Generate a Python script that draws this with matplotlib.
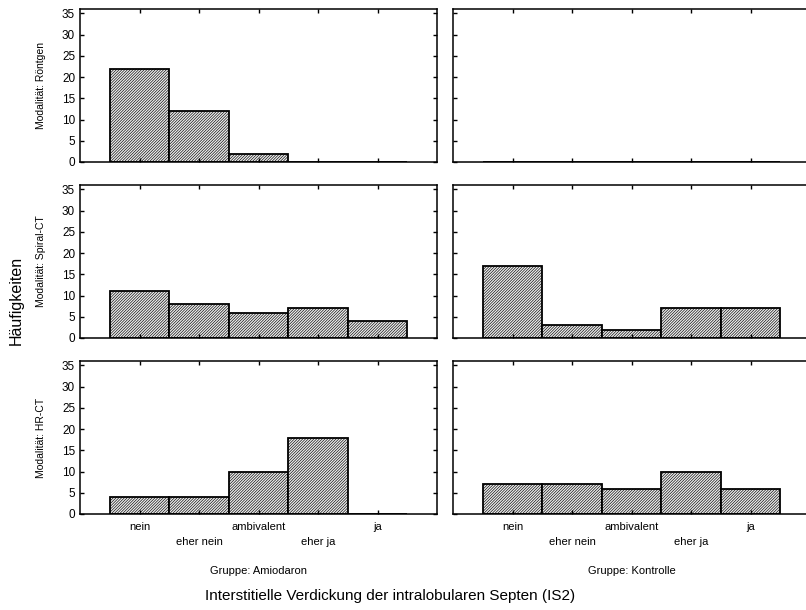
import numpy as np
import matplotlib.pyplot as plt

plt.rcParams['font.family'] = ['Liberation Sans', 'DejaVu Sans']
plt.rcParams['hatch.color'] = '#777777'
plt.rcParams['hatch.linewidth'] = 0.45

# Antwortkategorien und Häufigkeiten je Gruppe / Modalität
kategorien = ["nein", "eher nein", "ambivalent", "eher ja", "ja"]
modalitaeten = ["Röntgen", "Spiral-CT", "HR-CT"]
gruppen = ["Amiodaron", "Kontrolle"]

amiodaron_roentgen = [22, 12, 2, 0, 0]
amiodaron_spiral = [11, 8, 6, 7, 4]
amiodaron_hr = [4, 4, 10, 18, 0]
kontrolle_roentgen = [0, 0, 0, 0, 0]
kontrolle_spiral = [17, 3, 2, 7, 7]
kontrolle_hr = [7, 7, 6, 10, 6]

werte = {
    ("Amiodaron", "Röntgen"): amiodaron_roentgen,
    ("Amiodaron", "Spiral-CT"): amiodaron_spiral,
    ("Amiodaron", "HR-CT"): amiodaron_hr,
    ("Kontrolle", "Röntgen"): kontrolle_roentgen,
    ("Kontrolle", "Spiral-CT"): kontrolle_spiral,
    ("Kontrolle", "HR-CT"): kontrolle_hr,
}

W, H = 806, 610
fig = plt.figure(figsize=(W / 100, H / 100), dpi=100)

# Pixel-Layout der Panels
spalten_x = [80, 453]
breite = 357
zeilen_unten = [162, 338, 514]
hoehe = 153

x = np.arange(1, 6)
xlabels = ["nein", "\neher nein", "ambivalent", "\neher ja", "ja"]

for r, mod in enumerate(modalitaeten):
    for c, grp in enumerate(gruppen):
        ax = fig.add_axes([spalten_x[c] / W, 1 - zeilen_unten[r] / H,
                           breite / W, hoehe / H])
        ax.bar(x, werte[(grp, mod)], width=1.0, facecolor='#ededed',
               edgecolor='black', linewidth=1.3, hatch='/' * 12)
        ax.set_xlim(0, 6)
        ax.set_ylim(0, 36)
        ax.set_yticks(range(0, 36, 5))
        ax.set_xticks(x)
        ax.tick_params(direction='in', length=3, width=1, top=True, right=True,
                       labelsize=8.5)
        for s in ax.spines.values():
            s.set_linewidth(1.1)
        if c == 1:
            ax.set_yticklabels([])
        if r < 2:
            ax.set_xticklabels([])
        else:
            ax.set_xticklabels(xlabels, fontsize=8, linespacing=1.6)
            ax.tick_params(axis='x', pad=6)
            ax.text(0.5, -0.37, f"Gruppe: {grp}", transform=ax.transAxes,
                    ha='center', va='center', fontsize=8)
        if c == 0:
            ax.text(-0.11, 0.5, f"Modalität: {mod}", transform=ax.transAxes,
                    rotation=90, ha='center', va='center', fontsize=7.5)

fig.text(16 / W, 1 - 300 / H, "Häufigkeiten", rotation=90,
         ha='center', va='center', fontsize=11.5)
fig.text(390 / W, 1 - 596 / H,
         "Interstitielle Verdickung der intralobularen Septen (IS2)",
         ha='center', va='center', fontsize=11)

fig.savefig("out.png", dpi=100)
